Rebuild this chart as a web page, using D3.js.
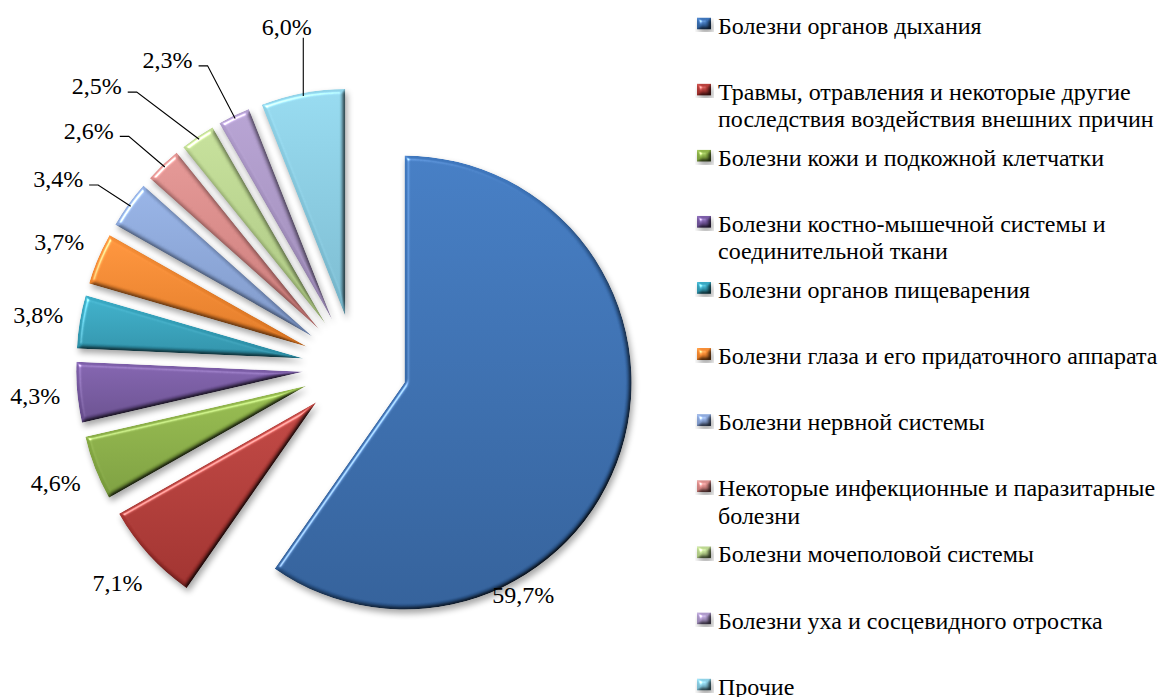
<!DOCTYPE html>
<html>
<head>
<meta charset="utf-8">
<script src="https://cdn.jsdelivr.net/npm/d3@7"></script>
<style>
  html, body { margin: 0; padding: 0; background: #fff; }
</style>
</head>
<body>
<svg id="chart" width="1168" height="697"></svg>
<script>
// Структура заболеваемости, %
const categories = [
  "Болезни органов дыхания",
  "Травмы, отравления и некоторые другие последствия воздействия внешних причин",
  "Болезни кожи и подкожной клетчатки",
  "Болезни костно-мышечной системы и соединительной ткани",
  "Болезни органов пищеварения",
  "Болезни глаза и его придаточного аппарата",
  "Болезни нервной системы",
  "Некоторые инфекционные и паразитарные болезни",
  "Болезни мочеполовой системы",
  "Болезни уха и сосцевидного отростка",
  "Прочие"
];
const values = [59.7, 7.1, 4.6, 4.3, 3.8, 3.7, 3.4, 2.6, 2.5, 2.3, 6.0];

// Slice fills: lighter top, darker bottom
const topColors = ["#3f77bd", "#bb423e", "#92b74b", "#7d5ea9", "#3aabc5", "#f78f38",
                   "#91addf", "#dd918f", "#bfd994", "#b09ccc", "#90d3e8"];
const bottomColors = ["#2d5a93", "#992c29", "#76983a", "#634a88", "#2a8aa1", "#d97320",
                      "#7790c0", "#c27472", "#a3bd7a", "#9583ae", "#74b3c8"];

// Label placement tweaks for the crowded upper-left labels (px) and their leader style
const labelNudge = [[-138, 132], [0, 0], [0, 0], [0, 0], [0, 0], [0, 0],
                    [-36, -1], [-45, -4], [-77, -16], [-48, -18], [-8, -25]];
const leaderStyle = [null, null, null, null, null, null, "elbow", "elbow", "elbow", "elbow", "drop"];

const FONT = "Liberation Serif";
const FONT_SIZE = 24;
const svg = d3.select("#chart");
const defs = svg.append("defs");

// Bevel + drop shadow
const f = defs.append("filter").attr("id", "bevel")
  .attr("x", "-20%").attr("y", "-20%").attr("width", "140%").attr("height", "140%")
  .attr("color-interpolation-filters", "sRGB");
f.append("feGaussianBlur").attr("in", "SourceAlpha").attr("stdDeviation", 2.2).attr("result", "b");
f.append("feDiffuseLighting").attr("in", "b").attr("surfaceScale", 2.2).attr("diffuseConstant", 1.414)
  .attr("lighting-color", "#fff").attr("result", "d")
  .append("feDistantLight").attr("azimuth", 225).attr("elevation", 45);
f.append("feComposite").attr("in", "SourceGraphic").attr("in2", "d").attr("operator", "arithmetic")
  .attr("k1", 1).attr("k2", 0).attr("k3", 0).attr("k4", 0).attr("result", "shaded");
f.append("feSpecularLighting").attr("in", "b").attr("surfaceScale", 3).attr("specularConstant", 0.55)
  .attr("specularExponent", 35).attr("lighting-color", "#fff").attr("result", "s")
  .append("feDistantLight").attr("azimuth", 225).attr("elevation", 45);
f.append("feComposite").attr("in", "s").attr("in2", "SourceAlpha").attr("operator", "in").attr("result", "sIn");
f.append("feComposite").attr("in", "shaded").attr("in2", "sIn").attr("operator", "arithmetic")
  .attr("k1", 0).attr("k2", 1).attr("k3", 1).attr("k4", 0).attr("result", "lit");
f.append("feComposite").attr("in", "lit").attr("in2", "SourceAlpha").attr("operator", "in").attr("result", "litIn");
f.append("feGaussianBlur").attr("in", "SourceAlpha").attr("stdDeviation", 3).attr("result", "sb");
f.append("feOffset").attr("in", "sb").attr("dx", 1.5).attr("dy", 3.5).attr("result", "so");
f.append("feComponentTransfer").attr("in", "so").attr("result", "sc")
  .append("feFuncA").attr("type", "linear").attr("slope", 0.35);
const merge = f.append("feMerge");
merge.append("feMergeNode").attr("in", "sc");
merge.append("feMergeNode").attr("in", "litIn");

categories.forEach((c, i) => {
  const g = defs.append("linearGradient").attr("id", "grad" + i)
    .attr("x1", 0).attr("y1", 0).attr("x2", 0).attr("y2", 1);
  g.append("stop").attr("offset", "0%").attr("stop-color", topColors[i]);
  g.append("stop").attr("offset", "100%").attr("stop-color", bottomColors[i]);
});

// Pie geometry
const center = [355, 367], radius = 227, explode = 52, labelRadius = 269;
const pie = d3.pie().sort(null).value(d => d);
const arcs = pie(values);
const arc = d3.arc().innerRadius(0).outerRadius(radius);
const unit = a => [Math.sin(a), -Math.cos(a)];
const mid = d => (d.startAngle + d.endAngle) / 2;
const vertex = d => {
  const u = unit(mid(d));
  return [center[0] + explode * u[0], center[1] + explode * u[1]];
};
const fmt = v => d3.format(".1f")(v).replace(".", ",") + "%";

const slices = svg.append("g");
slices.selectAll("path").data(arcs).join("path")
  .attr("transform", d => { const v = vertex(d); return `translate(${v[0]},${v[1]})`; })
  .attr("d", arc)
  .attr("fill", (d, i) => `url(#grad${i})`)
  .attr("filter", "url(#bevel)");

// Data labels
const labelG = svg.append("g").attr("fill", "#000");
arcs.forEach((d, i) => {
  const v = vertex(d), u = unit(mid(d));
  const x = v[0] + labelRadius * u[0] + labelNudge[i][0];
  const y = v[1] + labelRadius * u[1] + labelNudge[i][1];
  const t = labelG.append("text").attr("x", x).attr("y", y).attr("dy", "0.34em")
    .attr("font-family", FONT).attr("font-size", FONT_SIZE)
    .attr("text-anchor", "middle").text(fmt(values[i]));
  const half = t.node().getComputedTextLength() / 2;
  const tgt = [v[0] + (radius - 3) * u[0], v[1] + (radius - 3) * u[1]];
  if (leaderStyle[i] === "elbow") {
    const sx = x + half + 6, sy = y + 6;
    labelG.append("path")
      .attr("d", `M${sx},${sy}H${sx + 9}L${tgt[0]},${tgt[1]}`)
      .attr("fill", "none").attr("stroke", "#000").attr("stroke-width", 1.1);
  } else if (leaderStyle[i] === "drop") {
    labelG.append("path")
      .attr("d", `M${tgt[0]},${y + 11}V${tgt[1]}`)
      .attr("fill", "none").attr("stroke", "#000").attr("stroke-width", 1.1);
  }
});

// Legend
const legendY = d3.scalePoint().domain(categories).range([25.5, 686.5]);
const legend = svg.append("g").attr("fill", "#000");
const maxLine = 470, lineStep = 27.5;
categories.forEach((c, i) => {
  const y = legendY(c);
  legend.append("rect").attr("x", 697).attr("y", y - 8).attr("width", 14).attr("height", 12)
    .attr("fill", `url(#grad${i})`).attr("filter", "url(#bevel)");
  const t = legend.append("text").attr("x", 718).attr("y", y)
    .attr("font-family", FONT).attr("font-size", FONT_SIZE);
  const words = c.split(" ");
  let line = [], n = 0;
  let ts = t.append("tspan").attr("x", 718).attr("dy", "0.34em");
  words.forEach(w => {
    line.push(w);
    ts.text(line.join(" "));
    if (ts.node().getComputedTextLength() > maxLine && line.length > 1) {
      line.pop();
      ts.text(line.join(" "));
      line = [w];
      n++;
      ts = t.append("tspan").attr("x", 718).attr("y", y + n * lineStep).attr("dy", "0.34em").text(w);
    }
  });
});
</script>
</body>
</html>
